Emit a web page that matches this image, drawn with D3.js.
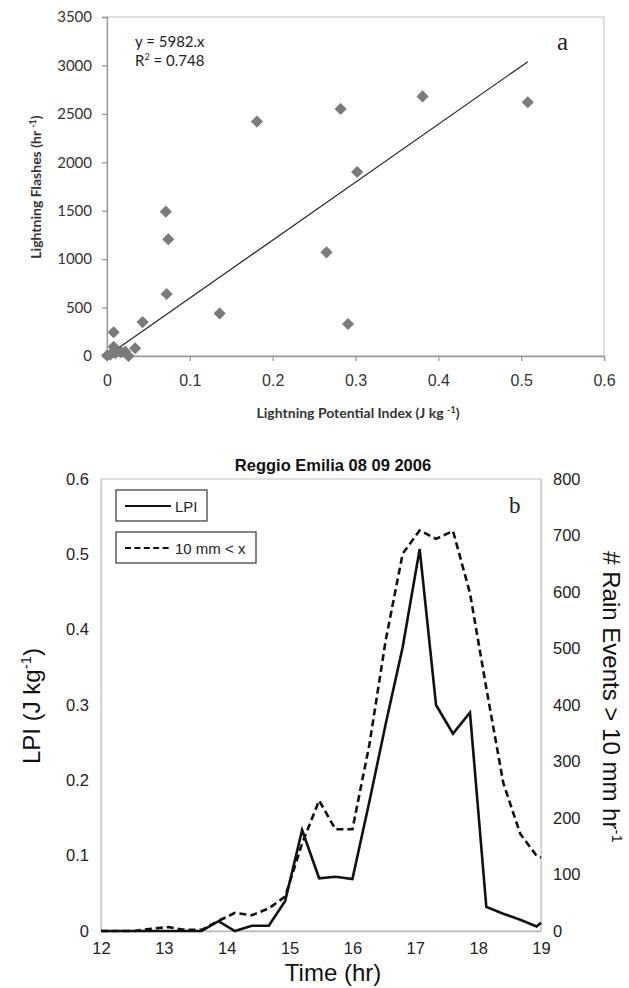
<!DOCTYPE html>
<html lang="en">
<head>
<meta charset="UTF-8">
<title>LPI</title>
<style>
  body { margin: 0; background: #fff; }
  svg { display: block; }
  .frame { fill: none; stroke: #c8c8c8; stroke-width: 1.2; }
  .tickA text { font-family: Lato, sans-serif; font-size: 15px; fill: #333; }
  .tickX text { font-family: "Liberation Sans", Arial, sans-serif; font-size: 16px; fill: #333; }
  .tickB text { font-family: "Liberation Sans", Arial, sans-serif; font-size: 16.5px; fill: #222; }
</style>
</head>
<body>
<svg width="629" height="988"></svg>
<script src="https://cdn.jsdelivr.net/npm/d3@7"></script>
<script>
// panel a : scatter
const lpiIndex = [0.181, 0.282, 0.302, 0.381, 0.508, 0.071, 0.074, 0.265, 0.072, 0.136, 0.291,
                  0.043, 0.008, 0.008, 0.010, 0.017, 0.022, 0.026, 0.034, 0.000, 0.004];
const flashes  = [2420, 2550, 1900, 2680, 2620, 1490, 1205, 1070, 640, 440, 330,
                  350, 245, 95, 30, 40, 45, 0, 80, 5, 15];
const slope = 5982;
const fitEnd = 0.508;
const xTicksA = [0, 0.1, 0.2, 0.3, 0.4, 0.5, 0.6];
const yTicksA = [0, 500, 1000, 1500, 2000, 2500, 3000, 3500];

// panel b : time series
const hours = [12, 12.27, 12.53, 12.8, 13.07, 13.33, 13.6, 13.87, 14.13, 14.4, 14.67, 14.93, 15.2, 15.47,
               15.73, 16, 16.27, 16.53, 16.8, 17.07, 17.33, 17.6, 17.87, 18.13, 18.4, 18.67, 18.93, 19];
const lpi  = [0, 0, 0, 0, 0, 0, 0, 0.013, 0, 0.007, 0.007, 0.040, 0.134, 0.070,
              0.072, 0.069, 0.172, 0.275, 0.377, 0.507, 0.300, 0.262, 0.290, 0.032, 0.023, 0.015, 0.006, 0.011];
const rain = [0, 0, 0, 4, 7, 2, 2, 18, 32, 28, 40, 61, 155, 231,
              180, 180, 330, 515, 668, 709, 694, 708, 598, 430, 262, 172, 133, 130];
const xTicksB = [12, 13, 14, 15, 16, 17, 18, 19];
const yTicksL = [0, 0.1, 0.2, 0.3, 0.4, 0.5, 0.6];
const yTicksR = [0, 100, 200, 300, 400, 500, 600, 700, 800];

const svg = d3.select("svg");

// ---------- panel a ----------
const xa = d3.scaleLinear().domain([0, 0.6]).range([107, 604]);
const ya = d3.scaleLinear().domain([0, 3500]).range([356, 17]);

const ga = svg.append("g");
ga.append("rect").attr("class", "frame")
  .attr("x", xa(0)).attr("y", ya(3500))
  .attr("width", xa(0.6) - xa(0)).attr("height", ya(0) - ya(3500));

ga.append("g").attr("class", "tickX")
  .attr("transform", `translate(0,${ya(0)})`)
  .call(d3.axisBottom(xa).tickValues(xTicksA).tickSize(5).tickPadding(14)
    .tickFormat(d => d === 0 ? "0" : d3.format(".1f")(d)))
  .call(g => g.selectAll("line, path").attr("stroke", "#999").attr("stroke-width", 1.3));

ga.append("g").attr("class", "tickA")
  .attr("transform", `translate(${xa(0)},0)`)
  .call(d3.axisLeft(ya).tickValues(yTicksA).tickSize(5).tickPadding(10).tickFormat(d3.format("d")))
  .call(g => g.selectAll("line, path").attr("stroke", "#999").attr("stroke-width", 1.3));

ga.append("line")
  .attr("x1", xa(0)).attr("y1", ya(0))
  .attr("x2", xa(fitEnd)).attr("y2", ya(slope * fitEnd))
  .attr("stroke", "#222").attr("stroke-width", 1.2);

const diamond = d3.symbol().type(d3.symbolSquare).size(74);
ga.selectAll("path.pt")
  .data(lpiIndex.map((v, i) => [v, flashes[i]]))
  .join("path")
  .attr("class", "pt")
  .attr("d", diamond)
  .attr("transform", d => `translate(${xa(d[0])},${ya(d[1])}) rotate(45)`)
  .attr("fill", "#7b7b7b");

const eq = ga.append("g").attr("font-family", "Lato, sans-serif").attr("font-size", 15).attr("fill", "#222");
eq.append("text").attr("x", 135).attr("y", 47).text("y = 5982.x");
const r2 = eq.append("text").attr("x", 135).attr("y", 66);
r2.append("tspan").text("R");
r2.append("tspan").attr("font-size", 9).attr("dy", -6).text("2");
r2.append("tspan").attr("dy", 6).text(" = 0.748");

ga.append("text").attr("x", 557).attr("y", 50)
  .attr("font-family", "Liberation Serif, serif").attr("font-size", 25).attr("fill", "#222").text("a");

const xtA = ga.append("text").attr("x", 358).attr("y", 418).attr("text-anchor", "middle")
  .attr("font-family", "Lato, sans-serif").attr("font-weight", "bold").attr("font-size", 14).attr("fill", "#333");
xtA.append("tspan").text("Lightning Potential Index (J kg ");
xtA.append("tspan").attr("font-size", 9).attr("dy", -5).text("-1");
xtA.append("tspan").attr("dy", 5).text(")");

const ytA = ga.append("text").attr("transform", "translate(41,187) rotate(-90)").attr("text-anchor", "middle")
  .attr("font-family", "Lato, sans-serif").attr("font-weight", "bold").attr("font-size", 14).attr("fill", "#333");
ytA.append("tspan").text("Lightning Flashes (hr ");
ytA.append("tspan").attr("font-size", 9).attr("dy", -5).text("-1");
ytA.append("tspan").attr("dy", 5).text(")");

// ---------- panel b ----------
const xb = d3.scaleLinear().domain([12, 19]).range([101, 541]);
const yl = d3.scaleLinear().domain([0, 0.6]).range([931, 479]);
const yr = d3.scaleLinear().domain([0, 800]).range([931, 479]);

const gb = svg.append("g");
gb.append("rect").attr("class", "frame")
  .attr("x", xb(12)).attr("y", yl(0.6))
  .attr("width", xb(19) - xb(12)).attr("height", yl(0) - yl(0.6));

gb.append("g").attr("class", "tickB")
  .attr("transform", `translate(0,${yl(0)})`)
  .call(d3.axisBottom(xb).tickValues(xTicksB).tickSize(0).tickPadding(11).tickFormat(d3.format("d")))
  .call(g => g.select(".domain").attr("stroke", "#bbb").attr("stroke-width", 1.3));

gb.append("g").attr("class", "tickB")
  .attr("transform", `translate(${xb(12)},0)`)
  .call(d3.axisLeft(yl).tickValues(yTicksL).tickSize(0).tickPadding(12)
    .tickFormat(d => d === 0 ? "0" : d3.format(".1f")(d)))
  .call(g => g.select(".domain").attr("stroke", "#ccc").attr("stroke-width", 1.2));

gb.append("g").attr("class", "tickB")
  .attr("transform", `translate(${xb(19)},0)`)
  .call(d3.axisRight(yr).tickValues(yTicksR).tickSize(0).tickPadding(12).tickFormat(d3.format("d")))
  .call(g => g.select(".domain").attr("stroke", "#ccc").attr("stroke-width", 1.2));

gb.append("path")
  .datum(hours.map((h, i) => [h, rain[i]]))
  .attr("d", d3.line().x(d => xb(d[0])).y(d => yr(d[1])))
  .attr("fill", "none").attr("stroke", "#111").attr("stroke-width", 2.6)
  .attr("stroke-dasharray", "7,4");

gb.append("path")
  .datum(hours.map((h, i) => [h, lpi[i]]))
  .attr("d", d3.line().x(d => xb(d[0])).y(d => yl(d[1])))
  .attr("fill", "none").attr("stroke", "#111").attr("stroke-width", 2.6)
  .attr("stroke-linejoin", "miter");

// legend
const legend = [
  { label: "LPI", dash: null, y: 490, w: 91 },
  { label: "10 mm < x", dash: "6,3.4", y: 532, w: 140 }
];
const lg = gb.selectAll("g.leg").data(legend).join("g").attr("class", "leg")
  .attr("transform", d => `translate(116,${d.y})`);
lg.append("rect").attr("width", d => d.w).attr("height", 31)
  .attr("fill", "#fff").attr("stroke", "#444").attr("stroke-width", 1.3);
lg.append("line").attr("x1", 9).attr("x2", 55).attr("y1", 16).attr("y2", 16)
  .attr("stroke", "#111").attr("stroke-width", 2.2)
  .attr("stroke-dasharray", d => d.dash);
lg.append("text").attr("x", 59).attr("y", 21.5)
  .attr("font-family", "Liberation Sans, Arial, sans-serif").attr("font-size", 15).attr("fill", "#222")
  .text(d => d.label);

gb.append("text").attr("x", 509).attr("y", 513)
  .attr("font-family", "Liberation Serif, serif").attr("font-size", 23).attr("fill", "#222").text("b");

gb.append("text").attr("x", 333).attr("y", 471).attr("text-anchor", "middle")
  .attr("font-family", "Liberation Sans, Arial, sans-serif").attr("font-weight", "bold")
  .attr("font-size", 16.5).attr("fill", "#111").text("Reggio Emilia 08 09 2006");

gb.append("text").attr("x", 333).attr("y", 981).attr("text-anchor", "middle")
  .attr("font-family", "Liberation Sans, Arial, sans-serif").attr("font-size", 24).attr("fill", "#111")
  .text("Time (hr)");

const ytL = gb.append("text").attr("transform", "translate(40,706) rotate(-90)").attr("text-anchor", "middle")
  .attr("font-family", "Liberation Sans, Arial, sans-serif").attr("font-size", 24).attr("fill", "#111");
ytL.append("tspan").text("LPI (J kg");
ytL.append("tspan").attr("font-size", 15).attr("dy", -9).text("-1");
ytL.append("tspan").attr("dy", 9).text(")");

const ytR = gb.append("text").attr("transform", "translate(603,697) rotate(90)").attr("text-anchor", "middle")
  .attr("font-family", "Liberation Sans, Arial, sans-serif").attr("font-size", 24).attr("fill", "#111");
ytR.append("tspan").text("# Rain Events > 10 mm hr");
ytR.append("tspan").attr("font-size", 15).attr("dy", -9).text("-1");
</script>
</body>
</html>
